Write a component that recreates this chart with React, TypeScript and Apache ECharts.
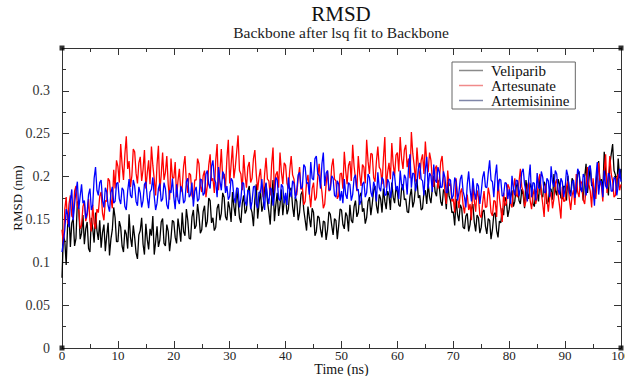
import React, { useEffect, useRef } from "react";
import * as echarts from "echarts";

const TITLE = "RMSD";
const SUBTITLE = "Backbone after lsq fit to Backbone";
const X_NAME = "Time (ns)";
const Y_NAME = "RMSD (nm)";
const SERIES_NAMES = ["Veliparib", "Artesunate", "Artemisinine"];
const TIME_STEP = 0.25; // ns between samples

const veliparib = [
  0.082, 0.131, 0.125, 0.097, 0.142, 0.158, 0.118, 0.146, 0.151, 0.119, 0.128, 0.171, 0.163, 0.127, 0.134, 0.155, 0.121, 0.139, 0.147, 0.116,
  0.112, 0.152, 0.139, 0.123, 0.158, 0.137, 0.126, 0.149, 0.117, 0.135, 0.144, 0.113, 0.131, 0.146, 0.108, 0.127, 0.138, 0.164, 0.152, 0.124,
  0.124, 0.148, 0.141, 0.119, 0.112, 0.138, 0.133, 0.116, 0.156, 0.129, 0.118, 0.143, 0.129, 0.111, 0.104, 0.132, 0.137, 0.152, 0.121, 0.109,
  0.145, 0.127, 0.115, 0.139, 0.131, 0.154, 0.109, 0.124, 0.142, 0.118, 0.126, 0.147, 0.151, 0.122, 0.119, 0.144, 0.136, 0.113, 0.128, 0.149,
  0.147, 0.129, 0.122, 0.151, 0.139, 0.124, 0.158, 0.136, 0.131, 0.162, 0.149, 0.128, 0.127, 0.153, 0.161, 0.139, 0.143, 0.168, 0.155, 0.134,
  0.138, 0.159, 0.166, 0.141, 0.148, 0.175, 0.172, 0.146, 0.152, 0.137, 0.141, 0.163, 0.168, 0.149, 0.157, 0.181, 0.176, 0.153, 0.149, 0.171,
  0.163, 0.147, 0.182, 0.165, 0.154, 0.186, 0.171, 0.152, 0.146, 0.169, 0.178, 0.157, 0.161, 0.183, 0.189, 0.164, 0.158, 0.142, 0.173, 0.191,
  0.151, 0.168, 0.184, 0.159, 0.166, 0.187, 0.192, 0.171, 0.159, 0.144, 0.175, 0.196, 0.148, 0.167, 0.181, 0.154, 0.167, 0.185, 0.155, 0.172,
  0.178, 0.156, 0.162, 0.184, 0.187, 0.165, 0.153, 0.176, 0.171, 0.149, 0.158, 0.179, 0.183, 0.161, 0.149, 0.137, 0.165, 0.152, 0.141, 0.163,
  0.158, 0.131, 0.136, 0.154, 0.152, 0.138, 0.129, 0.148, 0.147, 0.126, 0.138, 0.159, 0.156, 0.143, 0.132, 0.151, 0.149, 0.127, 0.143, 0.162,
  0.161, 0.144, 0.139, 0.158, 0.154, 0.136, 0.167, 0.149, 0.146, 0.165, 0.172, 0.153, 0.158, 0.177, 0.181, 0.159, 0.163, 0.145, 0.152, 0.171,
  0.176, 0.155, 0.168, 0.184, 0.189, 0.166, 0.157, 0.179, 0.174, 0.158, 0.186, 0.171, 0.162, 0.183, 0.178, 0.161, 0.193, 0.176, 0.169, 0.188,
  0.182, 0.167, 0.165, 0.186, 0.191, 0.173, 0.174, 0.159, 0.158, 0.177, 0.186, 0.164, 0.171, 0.189, 0.197, 0.175, 0.178, 0.161, 0.163, 0.182,
  0.184, 0.168, 0.192, 0.176, 0.169, 0.187, 0.201, 0.182, 0.177, 0.196, 0.188, 0.171, 0.166, 0.185, 0.181, 0.162, 0.194, 0.177, 0.172, 0.158,
  0.159, 0.143, 0.174, 0.156, 0.148, 0.167, 0.163, 0.141, 0.139, 0.154, 0.157, 0.136, 0.144, 0.162, 0.168, 0.147, 0.136, 0.155, 0.152, 0.134,
  0.141, 0.159, 0.161, 0.142, 0.133, 0.151, 0.149, 0.127, 0.138, 0.156, 0.158, 0.137, 0.129, 0.148, 0.146, 0.163, 0.155, 0.176, 0.171, 0.153,
  0.162, 0.177, 0.184, 0.165, 0.171, 0.188, 0.193, 0.172, 0.168, 0.185, 0.179, 0.163, 0.196, 0.181, 0.174, 0.192, 0.187, 0.169, 0.165, 0.183,
  0.182, 0.171, 0.198, 0.179, 0.176, 0.194, 0.189, 0.168, 0.171, 0.186, 0.185, 0.173, 0.203, 0.184, 0.178, 0.197, 0.191, 0.175, 0.174, 0.189,
  0.188, 0.172, 0.201, 0.185, 0.179, 0.198, 0.194, 0.176, 0.183, 0.203, 0.206, 0.184, 0.187, 0.172, 0.199, 0.215, 0.181, 0.196, 0.212, 0.189,
  0.193, 0.176, 0.186, 0.207, 0.218, 0.192, 0.197, 0.183, 0.229, 0.204, 0.191, 0.178, 0.214, 0.226, 0.238, 0.207, 0.202, 0.186, 0.221, 0.198,
  0.209,
];

const artesunate = [
  0.138, 0.121, 0.162, 0.176, 0.145, 0.168, 0.178, 0.154, 0.152, 0.183, 0.189, 0.166, 0.161, 0.139, 0.143, 0.165, 0.171, 0.148, 0.155, 0.174,
  0.148, 0.136, 0.167, 0.145, 0.139, 0.162, 0.158, 0.177, 0.182, 0.157, 0.149, 0.172, 0.171, 0.198, 0.195, 0.174, 0.163, 0.208, 0.186, 0.219,
  0.212, 0.193, 0.238, 0.214, 0.196, 0.226, 0.247, 0.209, 0.218, 0.188, 0.201, 0.232, 0.229, 0.204, 0.192, 0.216, 0.223, 0.195, 0.208, 0.231,
  0.186, 0.204, 0.219, 0.191, 0.235, 0.213, 0.197, 0.178, 0.214, 0.236, 0.183, 0.202, 0.228, 0.196, 0.205, 0.224, 0.191, 0.173, 0.221, 0.199,
  0.198, 0.217, 0.176, 0.195, 0.209, 0.182, 0.187, 0.212, 0.224, 0.193, 0.181, 0.204, 0.202, 0.178, 0.173, 0.196, 0.196, 0.221, 0.215, 0.189,
  0.182, 0.201, 0.207, 0.176, 0.189, 0.213, 0.226, 0.195, 0.198, 0.181, 0.219, 0.238, 0.184, 0.206, 0.232, 0.197, 0.203, 0.187, 0.221, 0.243,
  0.192, 0.214, 0.236, 0.198, 0.211, 0.229, 0.248, 0.207, 0.203, 0.184, 0.225, 0.201, 0.187, 0.211, 0.217, 0.193, 0.198, 0.221, 0.231, 0.203,
  0.184, 0.199, 0.209, 0.186, 0.176, 0.203, 0.222, 0.197, 0.195, 0.178, 0.214, 0.234, 0.181, 0.202, 0.206, 0.187, 0.228, 0.205, 0.191, 0.216,
  0.213, 0.192, 0.186, 0.208, 0.224, 0.202, 0.197, 0.178, 0.179, 0.198, 0.211, 0.185, 0.188, 0.167, 0.171, 0.194, 0.202, 0.181, 0.164, 0.186,
  0.193, 0.172, 0.176, 0.199, 0.215, 0.194, 0.182, 0.163, 0.168, 0.191, 0.207, 0.183, 0.186, 0.212, 0.221, 0.197, 0.195, 0.174, 0.178, 0.203,
  0.204, 0.186, 0.229, 0.207, 0.191, 0.213, 0.218, 0.195, 0.237, 0.212, 0.198, 0.183, 0.224, 0.203, 0.189, 0.214, 0.211, 0.192, 0.243, 0.218,
  0.203, 0.227, 0.226, 0.199, 0.194, 0.218, 0.235, 0.211, 0.208, 0.191, 0.221, 0.246, 0.187, 0.205, 0.216, 0.197, 0.239, 0.214, 0.201, 0.225,
  0.228, 0.206, 0.246, 0.221, 0.209, 0.231, 0.237, 0.211, 0.221, 0.198, 0.252, 0.227, 0.213, 0.194, 0.234, 0.212, 0.197, 0.219, 0.226, 0.203,
  0.241, 0.217, 0.205, 0.228, 0.219, 0.196, 0.188, 0.209, 0.213, 0.186, 0.196, 0.217, 0.224, 0.201, 0.183, 0.168, 0.207, 0.189, 0.192, 0.171,
  0.174, 0.158, 0.198, 0.176, 0.163, 0.181, 0.186, 0.167, 0.157, 0.173, 0.179, 0.161, 0.168, 0.149, 0.191, 0.172, 0.159, 0.184, 0.176, 0.155,
  0.152, 0.169, 0.183, 0.164, 0.165, 0.187, 0.178, 0.158, 0.154, 0.172, 0.171, 0.153, 0.196, 0.175, 0.162, 0.147, 0.181, 0.166, 0.169, 0.191,
  0.187, 0.169, 0.164, 0.185, 0.198, 0.179, 0.176, 0.194, 0.209, 0.188, 0.183, 0.165, 0.171, 0.189, 0.194, 0.172, 0.162, 0.178, 0.186, 0.168,
  0.177, 0.196, 0.203, 0.181, 0.168, 0.153, 0.191, 0.174, 0.159, 0.176, 0.182, 0.163, 0.174, 0.192, 0.197, 0.179, 0.166, 0.151, 0.188, 0.171,
  0.172, 0.188, 0.195, 0.174, 0.161, 0.178, 0.184, 0.167, 0.203, 0.182, 0.176, 0.195, 0.192, 0.173, 0.168, 0.186, 0.211, 0.191, 0.183, 0.164,
  0.198, 0.181, 0.174, 0.196, 0.216, 0.193, 0.189, 0.171, 0.207, 0.226, 0.181, 0.198, 0.224, 0.203, 0.195, 0.176, 0.178, 0.197, 0.203, 0.184,
  0.191,
];

const artemisinine = [
  0.112, 0.124, 0.138, 0.162, 0.156, 0.141, 0.171, 0.185, 0.149, 0.168, 0.183, 0.194, 0.162, 0.177, 0.191, 0.169, 0.172, 0.151, 0.158, 0.179,
  0.186, 0.161, 0.167, 0.198, 0.211, 0.184, 0.178, 0.193, 0.196, 0.172, 0.164, 0.187, 0.182, 0.166, 0.159, 0.181, 0.188, 0.169, 0.171, 0.192,
  0.193, 0.174, 0.168, 0.187, 0.184, 0.165, 0.161, 0.183, 0.197, 0.178, 0.175, 0.196, 0.189, 0.171, 0.166, 0.188, 0.181, 0.164, 0.172, 0.191,
  0.194, 0.176, 0.163, 0.182, 0.185, 0.199, 0.177, 0.161, 0.169, 0.186, 0.192, 0.171, 0.174, 0.193, 0.186, 0.167, 0.162, 0.184, 0.181, 0.198,
  0.176, 0.162, 0.191, 0.173, 0.168, 0.189, 0.185, 0.169, 0.172, 0.194, 0.198, 0.176, 0.179, 0.193, 0.165, 0.183, 0.188, 0.171, 0.174, 0.197,
  0.196, 0.178, 0.181, 0.203, 0.207, 0.191, 0.186, 0.212, 0.219, 0.197, 0.193, 0.176, 0.211, 0.195, 0.184, 0.206, 0.202, 0.181, 0.189, 0.173,
  0.177, 0.198, 0.195, 0.176, 0.169, 0.187, 0.186, 0.164, 0.174, 0.193, 0.192, 0.171, 0.166, 0.184, 0.183, 0.162, 0.171, 0.188, 0.189, 0.168,
  0.163, 0.182, 0.181, 0.197, 0.175, 0.161, 0.193, 0.176, 0.168, 0.187, 0.185, 0.166, 0.178, 0.199, 0.196, 0.174, 0.172, 0.191, 0.188, 0.169,
  0.181, 0.167, 0.199, 0.183, 0.176, 0.195, 0.192, 0.174, 0.184, 0.202, 0.205, 0.186, 0.188, 0.214, 0.211, 0.192, 0.193, 0.179, 0.217, 0.198,
  0.196, 0.221, 0.224, 0.203, 0.201, 0.186, 0.215, 0.228, 0.189, 0.204, 0.207, 0.185, 0.184, 0.201, 0.198, 0.178, 0.176, 0.195, 0.191, 0.172,
  0.183, 0.169, 0.197, 0.179, 0.174, 0.193, 0.191, 0.172, 0.179, 0.198, 0.202, 0.184, 0.185, 0.167, 0.172, 0.191, 0.194, 0.176, 0.181, 0.203,
  0.199, 0.182, 0.176, 0.194, 0.188, 0.171, 0.205, 0.187, 0.183, 0.199, 0.196, 0.178, 0.179, 0.197, 0.193, 0.175, 0.186, 0.206, 0.201, 0.184,
  0.189, 0.174, 0.207, 0.191, 0.184, 0.202, 0.198, 0.179, 0.211, 0.226, 0.187, 0.204, 0.203, 0.183, 0.192, 0.209, 0.216, 0.197, 0.195, 0.178,
  0.208, 0.223, 0.186, 0.204, 0.201, 0.182, 0.214, 0.196, 0.193, 0.211, 0.205, 0.187, 0.188, 0.206, 0.199, 0.181, 0.182, 0.197, 0.196, 0.174,
  0.178, 0.199, 0.194, 0.172, 0.181, 0.197, 0.202, 0.183, 0.176, 0.164, 0.191, 0.206, 0.185, 0.171, 0.198, 0.182, 0.173, 0.192, 0.189, 0.168,
  0.182, 0.199, 0.206, 0.188, 0.187, 0.204, 0.219, 0.196, 0.194, 0.176, 0.201, 0.214, 0.183, 0.197, 0.196, 0.177, 0.178, 0.193, 0.192, 0.174,
  0.185, 0.168, 0.201, 0.186, 0.178, 0.196, 0.195, 0.177, 0.187, 0.205, 0.209, 0.191, 0.183, 0.171, 0.197, 0.214, 0.176, 0.193, 0.192, 0.172,
  0.204, 0.187, 0.186, 0.206, 0.199, 0.182, 0.181, 0.198, 0.195, 0.176, 0.212, 0.193, 0.188, 0.207, 0.203, 0.184, 0.179, 0.198, 0.194, 0.176,
  0.186, 0.208, 0.201, 0.182, 0.177, 0.193, 0.196, 0.175, 0.188, 0.209, 0.205, 0.187, 0.182, 0.203, 0.199, 0.178, 0.191, 0.211, 0.213, 0.192,
  0.184, 0.166, 0.198, 0.217, 0.179, 0.195, 0.194, 0.176, 0.207, 0.189, 0.186, 0.204, 0.201, 0.183, 0.183, 0.199, 0.197, 0.178, 0.189, 0.209,
  0.194,
];

const SERIES_VALUES = [veliparib, artesunate, artemisinine];
const SERIES_COLORS = ["#000000", "#ff0000", "#0000ff"];
const LEGEND_COLORS = ["#8a8a8a", "#f08a8a", "#7f86a8"];

const X_MIN = 0;
const X_MAX = 100;
const X_INTERVAL = 10;
const Y_MIN = 0;
const Y_MAX = 0.35;
const Y_INTERVAL = 0.05;

const FONT = "'Liberation Serif', 'DejaVu Serif', serif";

export default function App() {
  const ref = useRef<HTMLDivElement>(null);

  useEffect(() => {
    if (!ref.current) return;
    const chart = echarts.init(ref.current, undefined, { renderer: "svg" });

    const axisLine = { show: true, onZero: false, lineStyle: { color: "#333", width: 1 } };
    const tickStyle = { color: "#333", width: 1 };

    const lineSeries = SERIES_NAMES.map((name, i) => ({
      name,
      type: "line",
      xAxisIndex: 0,
      yAxisIndex: 0,
      data: SERIES_VALUES[i].map((v, k) => [k * TIME_STEP, v]),
      showSymbol: false,
      symbol: "none",
      lineStyle: { color: SERIES_COLORS[i], width: 1.3 },
      itemStyle: { color: SERIES_COLORS[i] },
      z: 2 + i,
    }));

    const corners = [
      [X_MIN, Y_MIN],
      [X_MAX, Y_MIN],
      [X_MIN, Y_MAX],
      [X_MAX, Y_MAX],
    ];

    chart.setOption({
      animation: false,
      backgroundColor: "#ffffff",
      textStyle: { fontFamily: FONT },
      title: [
        {
          text: TITLE,
          left: 341,
          top: 3,
          padding: 0,
          textAlign: "center",
          textStyle: { fontFamily: FONT, fontSize: 21, fontWeight: "normal", color: "#111" },
        },
        {
          text: SUBTITLE,
          left: 341,
          top: 24,
          padding: 0,
          textAlign: "center",
          textStyle: { fontFamily: FONT, fontSize: 15.5, fontWeight: "normal", color: "#222" },
        },
      ],
      legend: {
        left: 452,
        top: 62,
        orient: "vertical",
        data: SERIES_NAMES.map((n, i) => ({ name: n, itemStyle: { color: LEGEND_COLORS[i] } })),
        icon: "rect",
        itemWidth: 24,
        itemHeight: 1.5,
        itemGap: 0,
        padding: [1, 6, 1, 7],
        borderColor: "#666",
        borderWidth: 1,
        backgroundColor: "#fff",
        textStyle: { fontFamily: FONT, fontSize: 15, lineHeight: 14, color: "#111", padding: [0, 0, 0, 3] },
        selectedMode: false,
      },
      grid: { left: 62, right: 4, top: 48, bottom: 28, containLabel: false, outerBoundsMode: "none" },
      xAxis: [
        {
          type: "value",
          min: X_MIN,
          max: X_MAX,
          interval: X_INTERVAL,
          name: X_NAME,
          nameLocation: "middle",
          nameGap: 14,
          nameMoveOverlap: false,
          nameTextStyle: { fontFamily: FONT, fontSize: 14, color: "#111" },
          axisLine,
          axisTick: { show: true, inside: true, length: 7, lineStyle: tickStyle },
          minorTick: { show: true, splitNumber: 2, length: 4, lineStyle: tickStyle },
          axisLabel: { fontFamily: FONT, fontSize: 13, color: "#222", margin: 1 },
          splitLine: { show: false },
        },
        {
          type: "value",
          position: "top",
          min: X_MIN,
          max: X_MAX,
          interval: X_INTERVAL,
          axisLine,
          axisTick: { show: true, inside: true, length: 7, lineStyle: tickStyle },
          minorTick: { show: true, splitNumber: 2, length: 4, lineStyle: tickStyle },
          axisLabel: { show: false },
          splitLine: { show: false },
        },
      ],
      yAxis: [
        {
          type: "value",
          min: Y_MIN,
          max: Y_MAX,
          interval: Y_INTERVAL,
          name: Y_NAME,
          nameLocation: "middle",
          nameGap: 38,
          nameMoveOverlap: false,
          nameRotate: 90,
          nameTextStyle: { fontFamily: FONT, fontSize: 13, color: "#111" },
          axisLine,
          axisTick: { show: true, inside: true, length: 7, lineStyle: tickStyle },
          minorTick: { show: true, splitNumber: 2, length: 4, lineStyle: tickStyle },
          axisLabel: { fontFamily: FONT, fontSize: 14, color: "#333", margin: 12, showMaxLabel: false },
          splitLine: { show: false },
        },
        {
          type: "value",
          position: "right",
          min: Y_MIN,
          max: Y_MAX,
          interval: Y_INTERVAL,
          axisLine,
          axisTick: { show: true, inside: true, length: 7, lineStyle: tickStyle },
          minorTick: { show: true, splitNumber: 2, length: 4, lineStyle: tickStyle },
          axisLabel: { show: false },
          splitLine: { show: false },
        },
      ],
      series: [
        ...lineSeries,
        {
          name: "corners",
          type: "scatter",
          data: corners,
          symbol: "rect",
          symbolSize: 5,
          itemStyle: { color: "#000" },
          clip: false,
          silent: true,
          z: 10,
        },
      ],
    });

    return () => chart.dispose();
  }, []);

  return (
    <div
      ref={ref}
      style={{ position: "fixed", left: 0, top: 0, width: 625, height: 376, background: "#fff" }}
    />
  );
}
